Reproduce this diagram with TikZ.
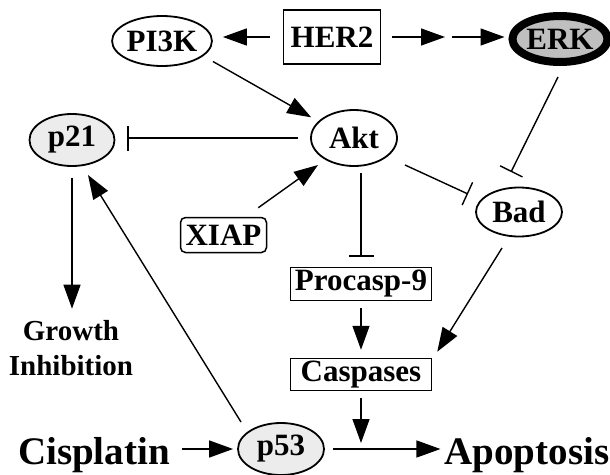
\documentclass[tikz,border=0pt]{standalone}
\usepackage{fontspec}
\setmainfont{Liberation Serif}
\usetikzlibrary{arrows.meta,shapes.geometric,calc}
\begin{document}
\begin{tikzpicture}[x=1pt,y=-1pt,
  every node/.style={font=\fontsize{31}{36}\selectfont\bfseries, inner sep=0pt},
  oval/.style={ellipse, draw, line width=1.8pt},
  box/.style={rectangle, draw, line width=1.5pt},
  arr/.style={line width=1.4pt, -{Triangle[length=24pt,width=17pt]}},
  inh/.style={line width=1.4pt, -{Bar[width=25pt,line width=1.4pt]}},
  big/.style={font=\fontsize{39}{42}\selectfont\bfseries},
  lbl/.style={font=\fontsize{29}{34}\selectfont\bfseries}
]
\useasboundingbox (0,0) rectangle (610,474);
% nodes
\node[oval, minimum width=88pt, minimum height=50pt] (pi3k) at (162,41) {PI3K};
\node[box, minimum width=97pt, minimum height=54pt] (her2) at (332,37) {HER2};
\node[oval, line width=8pt, fill=gray!50, minimum width=84pt, minimum height=46pt] (erk) at (560,39) {ERK};
\node[oval, minimum width=86pt, minimum height=56pt] (akt) at (354,138) {Akt};
\node[oval, fill=gray!15, minimum width=85pt, minimum height=52pt] (p21) at (72,140) {p21};
\node[oval, minimum width=86pt, minimum height=49pt] (bad) at (519,212) {Bad};
\node[box, rounded corners=5pt, minimum width=86pt, minimum height=35pt] (xiap) at (223.5,235) {XIAP};
\node[box, minimum width=141pt, minimum height=33pt] (procasp) at (361,284) {Procasp-9};
\node[box, minimum width=141pt, minimum height=32pt] (casp) at (361,374.5) {Caspases};
\node[oval, fill=gray!15, minimum width=86pt, minimum height=52pt] (p53) at (281,449) {p53};
\node[lbl, anchor=base] (growth) at (71,340) {Growth};
\node[lbl, anchor=base] (inhib) at (71,375) {Inhibition};
\node[big, anchor=base] (cis) at (94,464) {Cisplatin};
\node[big, anchor=base] (apo) at (527,464) {Apoptosis};
\coordinate (mid) at (448,37);
\coordinate (junc) at (casp.south |- p53.east);
% connectors
\draw[arr, shorten <=13pt, shorten >=10pt] (her2.west) -- (pi3k.east |- her2.west);
\draw[arr, shorten <=11pt, shorten >=3pt] (her2.east) -- (mid);
\draw[arr, shorten <=4pt, shorten >=4pt] (mid) -- (erk.west |- mid);
\draw[arr, shorten <=11pt, shorten >=8pt] (pi3k.-20) -- (akt.155);
\draw[inh, shorten <=12pt, shorten >=12pt] (akt.west) -- (p21.east |- akt.west);
\draw[arr] ($(xiap.north east)+(-9,-9)$) -- ($(akt.center)+(-36,27)$);
\draw[inh] ($(akt.center)+(51,27)$) -- ($(bad.center)+(-51,-18)$);
\draw[inh] ($(erk.center)+(-2,38)$) -- ($(bad.center)+(-8,-40)$);
\draw[inh, shorten <=6pt, shorten >=10pt] (akt.south -| procasp.north) -- (procasp.north);
\draw[arr, shorten <=7pt, shorten >=8pt] (procasp.south) -- (casp.north);
\draw[arr] ($(bad.center)+(-17,36)$) -- ($(casp.north east)+(5,-6)$);
\draw[arr, shorten <=7pt, shorten >=6pt] (casp.south) -- (junc);
\draw[arr, shorten <=8pt, shorten >=4pt] (p53.east) -- (p53.east -| apo.west);
\draw[arr, shorten <=12pt, shorten >=4pt] (cis.east |- p53.west) -- (p53.west);
\draw[arr] ($(p53.center)+(-40,-27)$) -- ($(p21.center)+(16,35)$);
\draw[arr, shorten <=11pt, shorten >=11pt] (p21.south) -- (p21.south |- growth.north);
\end{tikzpicture}
\end{document}
